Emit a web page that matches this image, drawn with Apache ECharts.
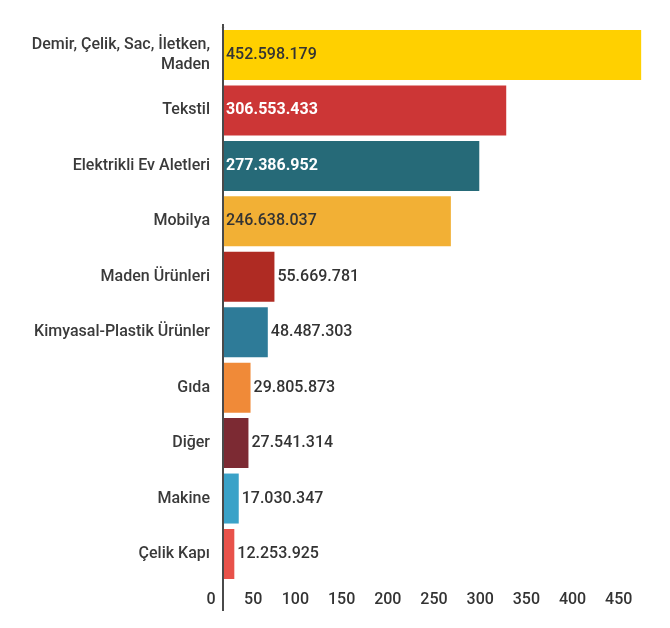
<!DOCTYPE html>
<html><head><meta charset="utf-8">
<script src="https://cdn.jsdelivr.net/npm/echarts@6/dist/echarts.min.js"></script>
<style>html,body{margin:0;padding:0;background:#fff}#c{width:670px;height:628px}</style>
</head><body><div id="c"></div>
<script>
const categories = ["Demir, Çelik, Sac, İletken,\nMaden","Tekstil","Elektrikli Ev Aletleri","Mobilya","Maden Ürünleri","Kimyasal-Plastik Ürünler","Gıda","Diğer","Makine","Çelik Kapı"];
const values = [452.598179,306.553433,277.386952,246.638037,55.669781,48.487303,29.805873,27.541314,17.030347,12.253925];
const valueLabels = ["452.598.179","306.553.433","277.386.952","246.638.037","55.669.781","48.487.303","29.805.873","27.541.314","17.030.347","12.253.925"];
const colors = ["#FFD000","#CC3636","#266A78","#F2B035","#AF2B23","#2E7B98","#F08A38","#7C2A33","#3AA2C8","#E8524A"];
const insideWhite = [false,true,true,false,false,false,false,false,false,false];
const insideBar = [true,true,true,true,false,false,false,false,false,false];
const tickLabels = [0,50,100,150,200,250,300,350,400,450];

const chart = echarts.init(document.getElementById('c'), null, {renderer:'canvas'});
const FONT = 'Roboto';
const data = values.map((v,i)=>({
  value: v,
  itemStyle:{color:colors[i]},
  label:{
    show:true,
    position: insideBar[i] ? 'insideLeft' : 'right',
    distance: 3,
    formatter: valueLabels[i],
    color: insideWhite[i] ? '#ffffff' : '#333333',
    fontWeight: insideWhite[i] ? 'bold' : 500,
    fontSize: 16,
    fontFamily: FONT
  }
}));
chart.setOption({
  animation:false,
  grid:{left:223,right:22,top:27.3,bottom:46.3,containLabel:false},
  xAxis:{
    type:'value', min:0, max:460, interval:50,
    axisLine:{show:false}, axisTick:{show:false}, splitLine:{show:false},
    axisLabel:{
      show:true, showMaxLabel:false, margin:10,
      fontSize:16, fontWeight:500, color:'#333', fontFamily:FONT,
      formatter:function(v){
        if(tickLabels.indexOf(v)<0) return '';
        if(v===0) return '{z|'+v+'}';
        if(v===50) return '{f|'+v+'}';
        return '{d|'+v+'}';
      },
      rich:{
        z:{padding:[0,24,0,0],fontSize:16,fontWeight:500,color:'#333',fontFamily:FONT},
        f:{padding:[0,32,0,0],fontSize:16,fontWeight:500,color:'#333',fontFamily:FONT},
        d:{padding:[0,40,0,0],fontSize:16,fontWeight:500,color:'#333',fontFamily:FONT}
      }
    }
  },
  yAxis:{
    type:'category', data:categories, inverse:true,
    axisLine:{show:true,lineStyle:{color:'#4a4a4a',width:2}},
    axisTick:{show:false},
    axisLabel:{margin:13,fontSize:16,fontWeight:500,color:'#3a3a3a',fontFamily:FONT,lineHeight:20,align:'right'}
  },
  series:[{type:'bar',data:data,barWidth:50,barCategoryGap:'10%'}]
});
const x0 = chart.convertToPixel({xAxisIndex:0},0);
chart.setOption({graphic:[{type:'line',shape:{x1:x0,y1:24,x2:x0,y2:611},style:{stroke:'#4a4a4a',lineWidth:2},z:10}]});
</script></body></html>
